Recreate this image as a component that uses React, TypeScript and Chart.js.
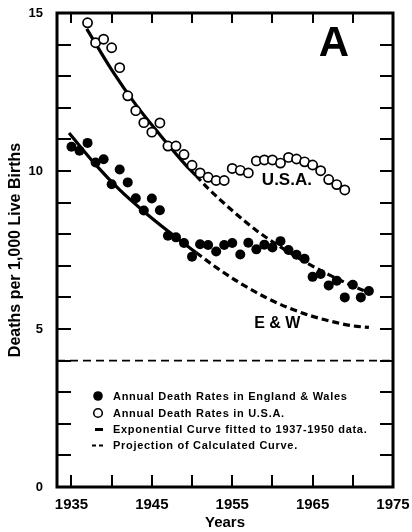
import { useEffect, useRef } from 'react';
import { Chart, registerables } from 'chart.js';

Chart.register(...registerables);

// ---------- data ----------
const ewYears = [1935, 1936, 1937, 1938, 1939, 1940, 1941, 1942, 1943, 1944, 1945, 1946, 1947, 1948, 1949, 1950, 1951, 1952, 1953, 1954, 1955, 1956, 1957, 1958, 1959, 1960, 1961, 1962, 1963, 1964, 1965, 1966, 1967, 1968, 1969, 1970, 1971, 1972];
const ewRates = [10.77, 10.64, 10.89, 10.27, 10.37, 9.58, 10.05, 9.64, 9.14, 8.75, 9.13, 8.76, 7.95, 7.9, 7.72, 7.29, 7.68, 7.66, 7.45, 7.66, 7.72, 7.36, 7.73, 7.52, 7.67, 7.58, 7.78, 7.5, 7.35, 7.22, 6.65, 6.74, 6.38, 6.53, 6.0, 6.4, 6.0, 6.2];

const usaYears = [1937, 1938, 1939, 1940, 1941, 1942, 1943, 1944, 1945, 1946, 1947, 1948, 1949, 1950, 1951, 1952, 1953, 1954, 1955, 1956, 1957, 1958, 1959, 1960, 1961, 1962, 1963, 1964, 1965, 1966, 1967, 1968, 1969];
const usaRates = [14.69, 14.06, 14.17, 13.9, 13.27, 12.38, 11.91, 11.53, 11.23, 11.52, 10.79, 10.79, 10.52, 10.18, 9.94, 9.8, 9.7, 9.7, 10.08, 10.02, 9.94, 10.32, 10.35, 10.35, 10.25, 10.43, 10.38, 10.29, 10.19, 10.01, 9.73, 9.57, 9.4];

const usaFitYears = [1936.9, 1940, 1943, 1946, 1949, 1950.5];
const usaFitValues = [14.5, 13.2, 12.1, 11.15, 10.25, 9.85];
const usaProjYears = [1950.5, 1952, 1955, 1958, 1961, 1964, 1967, 1970, 1972];
const usaProjValues = [9.85, 9.45, 8.75, 8.12, 7.6, 7.13, 6.72, 6.36, 6.15];

const ewFitYears = [1934.7, 1938, 1941, 1944, 1947, 1950.5];
const ewFitValues = [11.2, 10.2, 9.4, 8.72, 8.1, 7.42];
const ewProjYears = [1950.5, 1953, 1956, 1959, 1962, 1965, 1968, 1970, 1972];
const ewProjValues = [7.42, 6.95, 6.45, 6.02, 5.67, 5.4, 5.2, 5.1, 5.05];

const xTickLabels = [1935, 1945, 1955, 1965, 1975];
const xMinorTicks = [1935, 1940, 1945, 1950, 1955, 1960, 1965, 1970];
const yTickLabels = [0, 5, 10, 15];
const yMinorTicks = [1, 2, 3, 4, 5, 6, 7, 8, 9, 10, 11, 12, 13, 14];
const separatorValue = 4;

const legendLabels = [
  'Annual Death Rates in England & Wales',
  'Annual Death Rates in U.S.A.',
  'Exponential Curve fitted to 1937-1950 data.',
  'Projection of Calculated Curve.',
];
const panelLabel = 'A';
const usaLabel = 'U.S.A.';
const ewLabel = 'E & W';
const xTitle = 'Years';
const yTitle = 'Deaths per 1,000 Live Births';

const X_MIN = 1933.2;
const X_MAX = 1975;
const Y_MIN = 0;
const Y_MAX = 15;

const FONT = '"Liberation Sans", Arial, sans-serif';

const toPoints = (xs: number[], ys: number[]) => xs.map((x, i) => ({ x, y: ys[i] }));

const decorPlugin = {
  id: 'decor',
  afterDraw(chart: any) {
    const { ctx, chartArea, scales } = chart;
    const { left, right, top, bottom } = chartArea;
    const xs = scales.x;
    const ys = scales.y;
    ctx.save();
    ctx.strokeStyle = '#000';
    ctx.fillStyle = '#000';

    // inward ticks
    ctx.lineWidth = 2;
    ctx.beginPath();
    yMinorTicks.forEach((v) => {
      const py = Math.round(ys.getPixelForValue(v));
      ctx.moveTo(left, py);
      ctx.lineTo(left + 14, py);
      ctx.moveTo(right, py);
      ctx.lineTo(right - 13, py);
    });
    xMinorTicks.forEach((v) => {
      const px = Math.round(xs.getPixelForValue(v));
      ctx.moveTo(px, bottom);
      ctx.lineTo(px, bottom - 12);
      ctx.moveTo(px, top);
      ctx.lineTo(px, top + 10);
    });
    ctx.stroke();

    // frame
    ctx.lineWidth = 3;
    ctx.strokeRect(left, top, right - left, bottom - top);

    // annotations
    ctx.textAlign = 'center';
    ctx.textBaseline = 'middle';
    ctx.font = `bold 42px ${FONT}`;
    ctx.fillText(panelLabel, xs.getPixelForValue(1967.66), ys.getPixelForValue(14.0));
    ctx.font = `bold 17px ${FONT}`;
    ctx.fillText(usaLabel, xs.getPixelForValue(1961.8), ys.getPixelForValue(9.7));
    ctx.font = `bold 16px ${FONT}`;
    ctx.fillText(ewLabel, xs.getPixelForValue(1960.6), ys.getPixelForValue(5.16));

    // legend
    const markerX = left + 41;
    const textX = left + 56;
    const rows = [bottom - 91, bottom - 74, bottom - 57.5, bottom - 41.5];
    ctx.beginPath();
    ctx.arc(markerX, rows[0], 4.8, 0, Math.PI * 2);
    ctx.fill();
    ctx.beginPath();
    ctx.lineWidth = 1.6;
    ctx.arc(markerX, rows[1], 4.3, 0, Math.PI * 2);
    ctx.stroke();
    ctx.lineWidth = 3;
    ctx.beginPath();
    ctx.moveTo(markerX - 3, rows[2]);
    ctx.lineTo(markerX + 5, rows[2]);
    ctx.stroke();
    ctx.lineWidth = 2;
    ctx.beginPath();
    ctx.moveTo(markerX - 6, rows[3]);
    ctx.lineTo(markerX - 2, rows[3]);
    ctx.moveTo(markerX + 1, rows[3]);
    ctx.lineTo(markerX + 5, rows[3]);
    ctx.stroke();

    ctx.textAlign = 'left';
    ctx.font = `bold 11px ${FONT}`;
    (ctx as any).letterSpacing = '0.7px';
    legendLabels.forEach((t, i) => ctx.fillText(t, textX, rows[i] + 0.5));
    ctx.restore();
  },
};

export default function App() {
  const canvasRef = useRef<HTMLCanvasElement | null>(null);

  useEffect(() => {
    if (!canvasRef.current) return;
    const chart = new Chart(canvasRef.current, {
      type: 'scatter',
      data: {
        datasets: [
          {
            label: legendLabels[0],
            data: toPoints(ewYears, ewRates),
            pointRadius: 5,
            pointBackgroundColor: '#000',
            pointBorderColor: '#000',
            pointBorderWidth: 0,
            showLine: false,
          },
          {
            label: legendLabels[1],
            data: toPoints(usaYears, usaRates),
            pointRadius: 4.6,
            pointBackgroundColor: '#fff',
            pointBorderColor: '#000',
            pointBorderWidth: 1.7,
            showLine: false,
          },
          {
            label: 'USA fit',
            data: toPoints(usaFitYears, usaFitValues),
            showLine: true,
            borderColor: '#000',
            borderWidth: 3.2,
            pointRadius: 0,
            cubicInterpolationMode: 'monotone',
          },
          {
            label: 'USA projection',
            data: toPoints(usaProjYears, usaProjValues),
            showLine: true,
            borderColor: '#000',
            borderWidth: 3.2,
            borderDash: [7, 4],
            pointRadius: 0,
            cubicInterpolationMode: 'monotone',
          },
          {
            label: 'E&W fit',
            data: toPoints(ewFitYears, ewFitValues),
            showLine: true,
            borderColor: '#000',
            borderWidth: 3.2,
            pointRadius: 0,
            cubicInterpolationMode: 'monotone',
          },
          {
            label: 'E&W projection',
            data: toPoints(ewProjYears, ewProjValues),
            showLine: true,
            borderColor: '#000',
            borderWidth: 3.2,
            borderDash: [7, 4],
            pointRadius: 0,
            cubicInterpolationMode: 'monotone',
          },
          {
            label: 'separator',
            data: toPoints([X_MIN, X_MAX], [separatorValue, separatorValue]),
            showLine: true,
            borderColor: '#000',
            borderWidth: 1.8,
            borderDash: [8, 5],
            pointRadius: 0,
          },
        ],
      },
      options: {
        animation: false,
        responsive: true,
        maintainAspectRatio: false,
        layout: { padding: { left: 0, right: 19, top: 13, bottom: 0 } },
        plugins: { legend: { display: false }, tooltip: { enabled: false } },
        scales: {
          x: {
            type: 'linear',
            min: X_MIN,
            max: X_MAX,
            grid: { display: false, drawTicks: false },
            border: { display: false },
            afterBuildTicks: (scale: any) => {
              scale.ticks = xTickLabels.map((v) => ({ value: v }));
            },
            afterFit: (scale: any) => {
              scale.height = 45;
              scale.paddingLeft = 0;
              scale.paddingRight = 0;
            },
            ticks: {
              padding: 9,
              color: '#000',
              maxRotation: 0,
              font: { family: FONT, size: 15, weight: 'bold' },
              callback: (v: any) => String(v),
            },
            title: {
              display: true,
              text: xTitle,
              color: '#000',
              padding: { top: 0, bottom: 0 },
              font: { family: FONT, size: 15, weight: 'bold' },
            },
          },
          y: {
            type: 'linear',
            min: Y_MIN,
            max: Y_MAX,
            grid: { display: false, drawTicks: false },
            border: { display: false },
            afterBuildTicks: (scale: any) => {
              scale.ticks = yTickLabels.map((v) => ({ value: v }));
            },
            afterFit: (scale: any) => {
              scale.width = 57;
              scale.paddingTop = 0;
              scale.paddingBottom = 0;
            },
            ticks: {
              padding: 14,
              color: '#000',
              font: { family: FONT, size: 13, weight: 'bold' },
              callback: (v: any) => String(v),
            },
            title: {
              display: true,
              text: yTitle,
              color: '#000',
              padding: { top: 6, bottom: 0 },
              font: { family: FONT, size: 16, weight: 'bold' },
            },
          },
        },
      } as any,
      plugins: [decorPlugin],
    });
    return () => chart.destroy();
  }, []);

  return (
    <div style={{ position: 'fixed', left: 0, top: 0, width: 412, height: 532, background: '#fff' }}>
      <canvas ref={canvasRef} />
    </div>
  );
}
